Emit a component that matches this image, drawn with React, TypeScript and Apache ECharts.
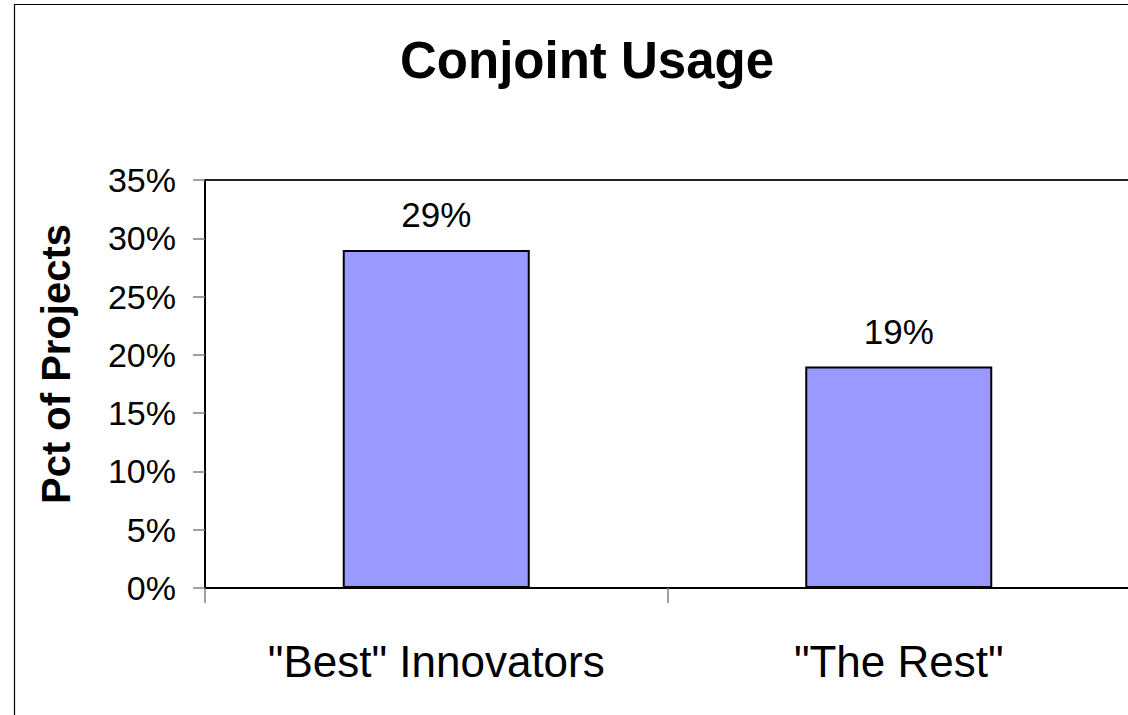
import React, { useEffect, useRef } from "react";
import * as echarts from "echarts";

const categories = ['"Best" Innovators', '"The Rest"'];
const values = [29, 19];
const yMin = 0;
const yMax = 35;
const yInterval = 5;
const titleText = "Conjoint Usage";
const yAxisName = "Pct of Projects";

const FONT = "'Liberation Sans', Arial, sans-serif";

export default function App() {
  const ref = useRef<HTMLDivElement>(null);
  useEffect(() => {
    if (!ref.current) return;
    const chart = echarts.init(ref.current, null, { renderer: "svg" });
    chart.setOption({
      animation: false,
      backgroundColor: "#ffffff",
      textStyle: { fontFamily: FONT, color: "#000" },
      title: {
        text: titleText,
        left: 582,
        top: 30,
        textAlign: "center",
        textStyle: { fontFamily: FONT, fontSize: 51, fontWeight: "bold", color: "#000" },
      },
      grid: {
        left: 205,
        top: 180,
        width: 925,
        height: 408,
        outerBoundsMode: "none",
        show: true,
        borderColor: "#222",
        borderWidth: 2,
        backgroundColor: "transparent",
      },
      xAxis: {
        type: "category",
        data: categories,
        boundaryGap: true,
        axisLine: { show: true, lineStyle: { color: "#000", width: 2 } },
        axisTick: { show: true, alignWithLabel: false, length: 15, lineStyle: { color: "#808080", width: 1.5 } },
        axisLabel: { fontFamily: FONT, fontSize: 44, color: "#000", margin: 51 },
        splitLine: { show: false },
      },
      yAxis: {
        type: "value",
        min: yMin,
        max: yMax,
        interval: yInterval,
        axisLine: { show: true, lineStyle: { color: "#000", width: 2 } },
        axisTick: { show: true, length: 12, lineStyle: { color: "#808080", width: 1.5 } },
        axisLabel: { fontFamily: FONT, fontSize: 34, color: "#000", margin: 29, formatter: "{value}%" },
        splitLine: { show: false },
      },
      graphic: [
        {
          type: "rect",
          silent: true,
          shape: { x: 14.5, y: 4.5, width: 1300, height: 900 },
          style: { fill: "none", stroke: "#000", lineWidth: 1.2 },
          z: 100,
        },
        {
          type: "text",
          x: 56,
          y: 364,
          rotation: Math.PI / 2,
          style: {
            text: yAxisName,
            fontFamily: FONT,
            fontSize: 40,
            fontWeight: "bold",
            fill: "#000",
            align: "center",
            verticalAlign: "middle",
          },
        },
      ],
      series: [
        {
          type: "bar",
          data: values,
          barWidth: 187,
          itemStyle: { color: "#9999ff", borderColor: "#000", borderWidth: 2 },
          label: {
            show: true,
            position: "top",
            distance: 18,
            formatter: "{c}%",
            fontFamily: FONT,
            fontSize: 35,
            color: "#000",
          },
        },
      ],
    });
    return () => chart.dispose();
  }, []);
  return (
    <div
      ref={ref}
      style={{ position: "absolute", left: 0, top: 0, width: 1128, height: 715, background: "#fff" }}
    />
  );
}
